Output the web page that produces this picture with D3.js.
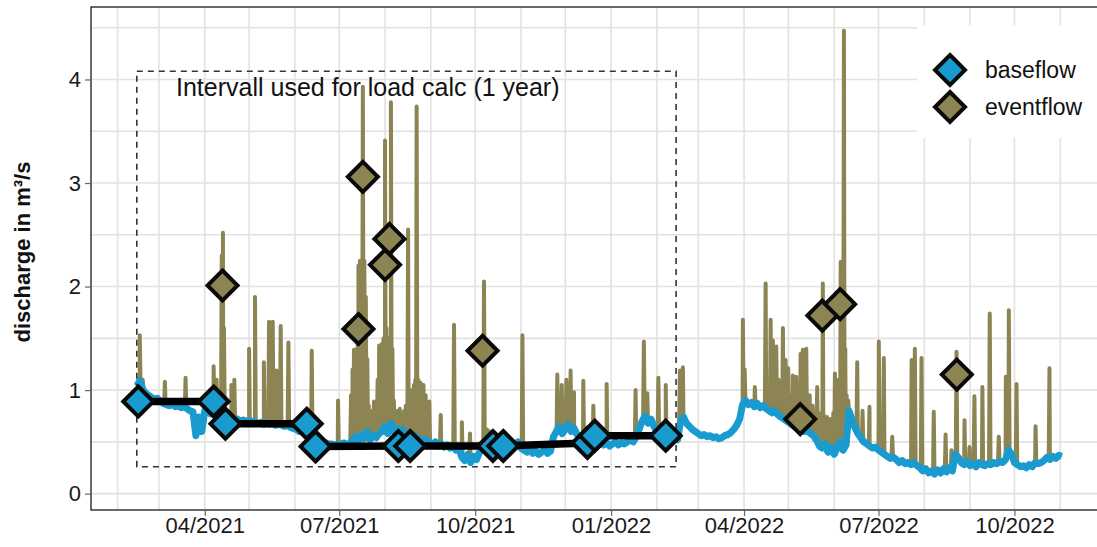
<!DOCTYPE html>
<html>
<head>
<meta charset="utf-8">
<script src="https://cdn.jsdelivr.net/npm/d3@7"></script>
<style>
  html, body { margin: 0; padding: 0; background: #fff; }
  svg { display: block; font-family: "Liberation Sans", Arial, Helvetica, sans-serif; }
</style>
</head>
<body>
<svg id="chart" width="1097" height="547"></svg>
<script>
// ---- data -----------------------------------------------------------------
// Discharge record starts here; baseflow is sampled every 2 days.
const seriesStart = "2021-02-14";
const baseflowStepDays = 2;

// Baseflow discharge (m³/s), one value per 2 days
const baseflow = [
  1.04, 1.09, 1.01, 0.97, 0.95, 0.93, 0.91, 0.92, 0.89, 0.87,
  0.86, 0.85, 0.87, 0.84, 0.85, 0.83, 0.84, 0.82, 0.80, 0.79,
  0.56, 0.74, 0.60, 0.80, 0.79, 0.77, 0.78, 0.76, 0.75, 0.74,
  0.73, 0.72, 0.73, 0.71, 0.72, 0.70, 0.71, 0.70, 0.69, 0.70,
  0.69, 0.68, 0.69, 0.67, 0.68, 0.67, 0.68, 0.66, 0.67, 0.66,
  0.65, 0.66, 0.64, 0.63, 0.62, 0.60, 0.61, 0.59, 0.58, 0.56,
  0.55, 0.53, 0.52, 0.50, 0.49, 0.48, 0.48, 0.47, 0.48, 0.47,
  0.49, 0.48, 0.47, 0.52, 0.55, 0.50, 0.57, 0.53, 0.60, 0.52,
  0.56, 0.54, 0.58, 0.60, 0.65, 0.58, 0.68, 0.60, 0.63, 0.57,
  0.62, 0.58, 0.55, 0.52, 0.56, 0.50, 0.53, 0.50, 0.52, 0.48,
  0.47, 0.50, 0.46, 0.48, 0.45, 0.47, 0.44, 0.46, 0.42, 0.44,
  0.35, 0.32, 0.38, 0.30, 0.36, 0.33, 0.40, 0.45, 0.50, 0.55,
  0.48, 0.52, 0.47, 0.50, 0.46, 0.49, 0.45, 0.48, 0.46, 0.50,
  0.44, 0.42, 0.40, 0.43, 0.39, 0.41, 0.38, 0.40, 0.42, 0.39,
  0.41, 0.55, 0.60, 0.65, 0.58, 0.62, 0.67, 0.60, 0.63, 0.57,
  0.55, 0.52, 0.50, 0.47, 0.49, 0.46, 0.48, 0.50, 0.47, 0.49,
  0.46, 0.48, 0.50, 0.47, 0.49, 0.48, 0.50, 0.52, 0.50, 0.55,
  0.62, 0.70, 0.75, 0.68, 0.72, 0.65, 0.60, 0.58, 0.52, 0.50,
  0.53, 0.51, 0.55, 0.52, 0.70, 0.74, 0.68, 0.65, 0.62, 0.60,
  0.58, 0.56, 0.57, 0.55, 0.56, 0.54, 0.55, 0.53, 0.54, 0.56,
  0.57, 0.59, 0.62, 0.66, 0.72, 0.86, 0.90, 0.86, 0.88, 0.84,
  0.87, 0.83, 0.85, 0.82, 0.80, 0.78, 0.80, 0.76, 0.74, 0.72,
  0.70, 0.68, 0.66, 0.64, 0.65, 0.62, 0.60, 0.61, 0.58, 0.56,
  0.52, 0.46, 0.44, 0.48, 0.40, 0.45, 0.38, 0.44, 0.50, 0.42,
  0.47, 0.80, 0.72, 0.64, 0.58, 0.54, 0.50, 0.48, 0.46, 0.44,
  0.45, 0.42, 0.40, 0.38, 0.36, 0.34, 0.35, 0.33, 0.30, 0.32,
  0.29, 0.30, 0.28, 0.30, 0.27, 0.25, 0.22, 0.24, 0.20, 0.22,
  0.19, 0.23, 0.20, 0.24, 0.21, 0.25, 0.22, 0.38, 0.35, 0.30,
  0.28, 0.31, 0.27, 0.29, 0.26, 0.30, 0.28, 0.27, 0.29, 0.28,
  0.30, 0.29, 0.31, 0.30, 0.33, 0.42, 0.38, 0.30, 0.28, 0.26,
  0.27, 0.25, 0.28, 0.26, 0.30, 0.29, 0.30, 0.32, 0.35, 0.33,
  0.36, 0.34, 0.37, 0.36
];

// Event peaks of total discharge: [days after series start, peak m³/s]
const eventPeaks = [
  [2, 1.53], [4, 1.10], [19, 1.08], [33, 1.12], [52, 1.23], [54, 1.10],
  [57.5, 2.30], [58.3, 2.52], [59, 1.60], [64, 1.05], [66, 1.10], [76, 1.40],
  [80, 1.90], [86, 1.27], [89.5, 1.66], [92, 1.66], [94.5, 1.19], [97.4, 1.62],
  [102.6, 1.46], [118.4, 1.38], [136.2, 0.90],
  [145, 0.95], [146, 1.20], [147, 1.39], [148, 1.35], [149, 1.40], [149.5, 1.50],
  [150, 2.20], [151, 2.25], [152, 2.20], [153, 3.93], [154, 2.25], [155, 1.90],
  [156, 1.30], [157, 0.85], [158, 0.80], [160.5, 0.89], [162, 0.85],
  [163, 1.10], [164, 1.43], [165, 1.40], [166, 1.45], [167, 1.50], [168, 3.41],
  [169, 1.60], [170, 1.45], [171, 1.50], [172, 3.78], [173, 1.40], [174, 0.90],
  [175, 0.80], [176, 0.75], [177, 0.80], [178, 0.82], [179, 0.75], [180, 0.78],
  [181, 0.80], [182, 0.85], [183.6, 2.55],
  [185, 1.00], [186, 0.90], [187, 1.00], [187.5, 1.05], [188.5, 1.10], [189.4, 3.74],
  [190.5, 1.10], [191.2, 1.00], [192, 1.07], [193, 0.95], [194, 1.05],
  [195.5, 0.95], [198, 0.89], [205.7, 0.76], [214.7, 1.63], [220, 0.69],
  [225.5, 0.58], [235, 2.05], [237, 0.62], [239, 0.60], [261, 1.53],
  [284.6, 1.15], [287.6, 1.05], [290.7, 1.10], [293.6, 1.19], [295.9, 0.98],
  [302.2, 1.09], [309, 0.85], [318, 1.06], [337.6, 1.00], [343.2, 1.47],
  [345.5, 0.97], [353, 1.12], [358, 1.05], [367.6, 1.19], [369.6, 1.22],
  [410.2, 1.68], [411.4, 1.20], [418.3, 1.03], [425.6, 2.03], [429, 1.68],
  [430.5, 1.48], [432.8, 1.42], [434.3, 1.10], [437.3, 1.60], [439.1, 1.29],
  [440.9, 1.21], [442.5, 0.95], [444, 1.14], [445.2, 0.90], [446.3, 1.13], [447.9, 0.95],
  [449.3, 1.35], [450.8, 1.39], [452, 1.10], [453.1, 1.40], [454.3, 0.90], [455.4, 0.95],
  [456.4, 0.82], [457.4, 0.85], [459, 0.78], [460.5, 1.03],
  [462, 0.75], [463.2, 0.78], [464.3, 2.03], [465.2, 0.75], [466.1, 0.72], [467.2, 0.74],
  [468.2, 0.70], [469.2, 0.72], [470.2, 0.72], [471.4, 0.78],
  [472.5, 1.16], [473.7, 0.85], [475, 1.10], [476.4, 2.24], [477.5, 1.20], [478.6, 4.47],
  [479.5, 1.40], [480.4, 0.95], [481.5, 0.90], [487.6, 1.27], [491.2, 0.80],
  [495.9, 0.84], [502.2, 1.47],
  [505.6, 1.31], [511.3, 0.55], [524.4, 1.29], [526.6, 1.40], [531.1, 1.31],
  [539.4, 0.79], [547.4, 0.57], [551.4, 0.42], [554.8, 1.37], [560.2, 0.71],
  [563.6, 0.45], [566.9, 0.94], [572.3, 1.03], [577.3, 1.74], [583.4, 0.55],
  [588.2, 1.13], [590.2, 1.77], [595.4, 1.06], [608.3, 0.65], [617.7, 1.21]
];

// Mean baseflow per sampling interval (start and end of each interval)
const baseflowMeans = [
  ["2021-02-15", 0.89], ["2021-04-07", 0.89], ["2021-04-15", 0.675], ["2021-06-09", 0.675],
  ["2021-06-15", 0.455], ["2021-08-10", 0.46], ["2021-08-18", 0.46], ["2021-10-13", 0.46],
  ["2021-10-20", 0.46], ["2021-12-16", 0.49], ["2021-12-21", 0.56], ["2022-02-07", 0.56]
];

// Mean eventflow of the sampled events
const eventflowMeans = [
  ["2021-04-13", 2.01], ["2021-07-14", 1.59], ["2021-07-17", 3.06], ["2021-08-01", 2.21],
  ["2021-08-04", 2.46], ["2021-10-06", 1.38], ["2022-05-09", 0.72], ["2022-05-24", 1.72],
  ["2022-06-05", 1.83], ["2022-08-23", 1.15]
];

// Interval used for the load calculation
const loadIntervalDates = ["2021-02-14", "2022-02-14"];
const loadIntervalRange = [0.26, 4.08];
const loadIntervalLabel = "Intervall used for load calc (1 year)";

const xTickDates = ["2021-04-01", "2021-07-01", "2021-10-01", "2022-01-01", "2022-04-01", "2022-07-01", "2022-10-01"];
const yTicks = [0, 1, 2, 3, 4];
const yGrid = [0, 0.5, 1, 1.5, 2, 2.5, 3, 3.5, 4, 4.5];
const legendLabels = ["baseflow", "eventflow"];
const yTitle = "discharge in m³/s";

// ---- layout & style -------------------------------------------------------
const plot = { left: 91, right: 1109, top: 7, bottom: 510 };
const colBase = "#1a9bd0";
const colEvent = "#8c8553";
const gridCol = "#e2e2e2";

const parse = d3.utcParse("%Y-%m-%d");
const t0 = parse(seriesStart);
const dayMs = 864e5;
const dayToDate = d => new Date(t0.getTime() + d * dayMs);

const x = d3.scaleUtc()
  .domain([parse("2021-01-14"), parse("2022-12-04")])
  .range([plot.left, plot.right]);
const y = d3.scaleLinear()
  .domain([-0.158, 4.70])
  .range([plot.bottom, plot.top]);

const svg = d3.select("#chart");

svg.append("defs").append("clipPath").attr("id", "plotClip")
  .append("rect")
  .attr("x", plot.left).attr("y", plot.top)
  .attr("width", plot.right - plot.left).attr("height", plot.bottom - plot.top);

// Grid: one vertical line per month, horizontal every 0.5
const grid = svg.append("g").attr("clip-path", "url(#plotClip)");
const months = d3.utcMonth.range(x.domain()[0], x.domain()[1]);
grid.selectAll("line.vg").data(months).join("line")
  .attr("x1", d => x(d)).attr("x2", d => x(d))
  .attr("y1", plot.top).attr("y2", plot.bottom)
  .attr("stroke", gridCol).attr("stroke-width", 1.6);
grid.selectAll("line.hg").data(yGrid).join("line")
  .attr("x1", plot.left).attr("x2", plot.right)
  .attr("y1", d => y(d)).attr("y2", d => y(d))
  .attr("stroke", gridCol).attr("stroke-width", 1.6);

// Legend background hides the grid behind it
svg.append("rect")
  .attr("x", 917).attr("y", 25).attr("width", 200).attr("height", 113)
  .attr("fill", "#fff");

const marks = svg.append("g").attr("clip-path", "url(#plotClip)");

// Total discharge: baseflow with event peaks
const basePts = baseflow.map((v, i) => [i * baseflowStepDays, v]);
const totalPts = basePts.slice();
eventPeaks.forEach(([d, p]) => {
  const b = baseflow[Math.min(baseflow.length - 1, Math.round(d / baseflowStepDays))];
  totalPts.push([d - 0.5, b], [d, p], [d + 0.5, b]);
});
totalPts.sort((a, b) => a[0] - b[0]);

const line = d3.line()
  .x(d => x(dayToDate(d[0])))
  .y(d => y(d[1]));

marks.append("path")
  .attr("d", line(totalPts))
  .attr("fill", "none").attr("stroke", colEvent)
  .attr("stroke-width", 4).attr("stroke-linejoin", "round");

marks.append("path")
  .attr("d", line(basePts))
  .attr("fill", "none").attr("stroke", colBase)
  .attr("stroke-width", 7).attr("stroke-linejoin", "round");

// Load interval box
svg.append("rect")
  .attr("x", x(parse(loadIntervalDates[0])))
  .attr("y", y(loadIntervalRange[1]))
  .attr("width", x(parse(loadIntervalDates[1])) - x(parse(loadIntervalDates[0])))
  .attr("height", y(loadIntervalRange[0]) - y(loadIntervalRange[1]))
  .attr("fill", "none").attr("stroke", "#333")
  .attr("stroke-width", 1.6).attr("stroke-dasharray", "6,5");

svg.append("text")
  .attr("x", 176).attr("y", 96)
  .attr("font-size", 25).attr("fill", "#111")
  .text(loadIntervalLabel);

// Mean baseflow line
const meanLine = d3.line()
  .x(d => x(parse(d[0])))
  .y(d => y(d[1]));
svg.append("path")
  .attr("d", meanLine(baseflowMeans))
  .attr("fill", "none").attr("stroke", "#000")
  .attr("stroke-width", 7.5).attr("stroke-linejoin", "round");

const diamond = r => `M0,${-r}L${r},0L0,${r}L${-r},0Z`;
const R = 15;

svg.append("g").selectAll("path").data(baseflowMeans).join("path")
  .attr("transform", d => `translate(${x(parse(d[0]))},${y(d[1])})`)
  .attr("d", diamond(R))
  .attr("fill", colBase).attr("stroke", "#0a0a0a").attr("stroke-width", 4)
  .attr("stroke-linejoin", "miter");

svg.append("g").selectAll("path").data(eventflowMeans).join("path")
  .attr("transform", d => `translate(${x(parse(d[0]))},${y(d[1])})`)
  .attr("d", diamond(R))
  .attr("fill", colEvent).attr("stroke", "#0a0a0a").attr("stroke-width", 4)
  .attr("stroke-linejoin", "miter");

// Panel border
svg.append("rect")
  .attr("x", plot.left).attr("y", plot.top)
  .attr("width", plot.right - plot.left).attr("height", plot.bottom - plot.top)
  .attr("fill", "none").attr("stroke", "#1a1a1a").attr("stroke-width", 1.3);

// Axes
const yAxis = svg.append("g")
  .attr("transform", `translate(${plot.left},0)`)
  .call(d3.axisLeft(y).tickValues(yTicks).tickSize(6).tickPadding(4).tickFormat(d3.format("d")));
const xAxis = svg.append("g")
  .attr("transform", `translate(0,${plot.bottom})`)
  .call(d3.axisBottom(x).tickValues(xTickDates.map(parse)).tickSize(6).tickPadding(1)
    .tickFormat(d3.utcFormat("%m/%Y")));
[yAxis, xAxis].forEach(a => {
  a.select(".domain").remove();
  a.selectAll(".tick line").attr("stroke", "#666").attr("stroke-width", 1.2);
  a.selectAll(".tick text").attr("fill", "#1a1a1a").attr("font-size", 22)
    .attr("font-family", "\"Liberation Sans\", Arial, sans-serif");
});

svg.append("text")
  .attr("transform", `translate(30,252) rotate(-90)`)
  .attr("text-anchor", "middle")
  .attr("font-size", 22).attr("font-weight", "bold").attr("fill", "#111")
  .text(yTitle);

// Legend
const legend = svg.append("g");
legendLabels.forEach((lab, i) => {
  const cy = 70 + i * 37;
  legend.append("path")
    .attr("transform", `translate(950,${cy})`)
    .attr("d", diamond(R))
    .attr("fill", i === 0 ? colBase : colEvent)
    .attr("stroke", "#0a0a0a").attr("stroke-width", 4);
  legend.append("text")
    .attr("x", 985).attr("y", cy)
    .attr("dy", "0.35em")
    .attr("font-size", 23).attr("fill", "#111")
    .text(lab);
});
</script>
</body>
</html>
